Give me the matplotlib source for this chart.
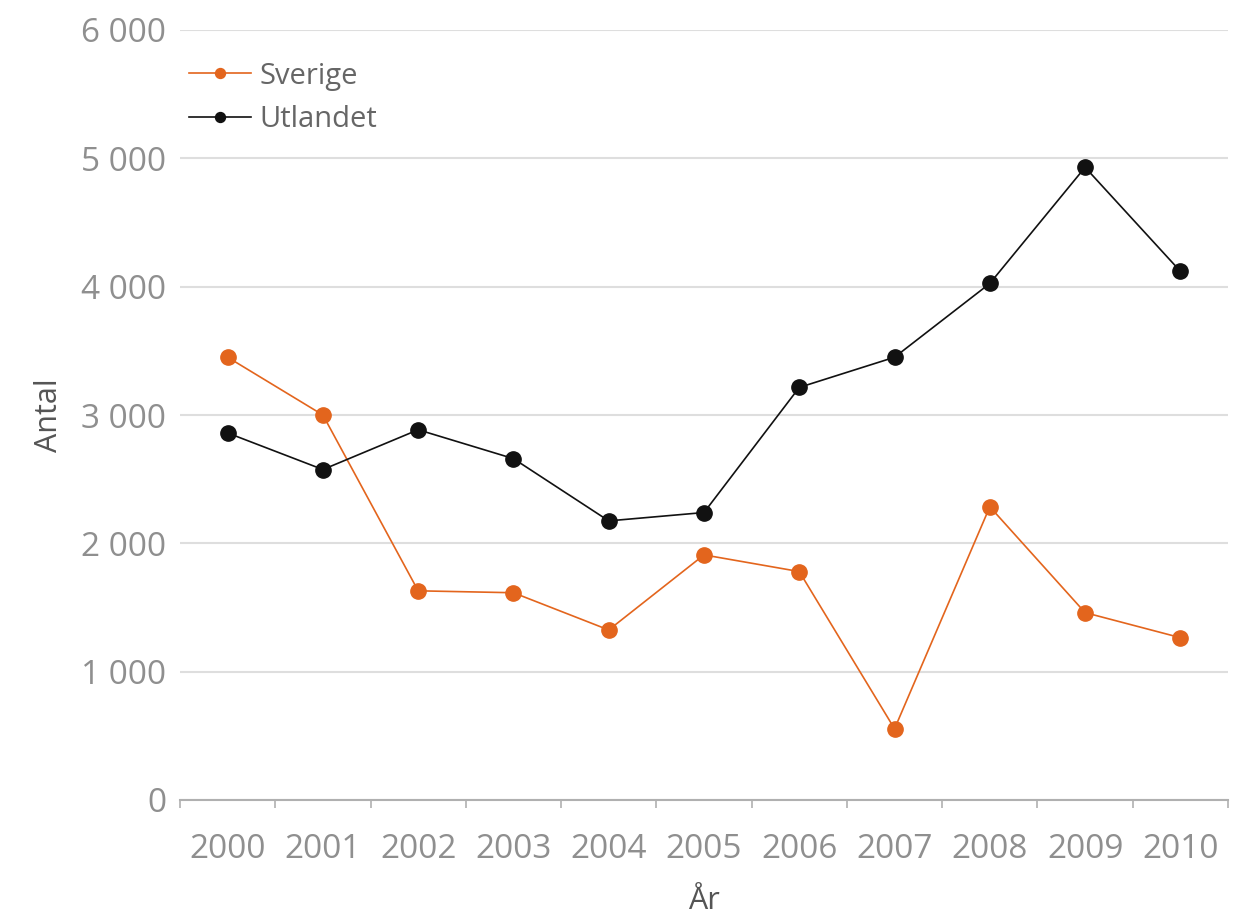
import matplotlib
matplotlib.use("Agg")
import matplotlib.pyplot as plt
import numpy as np

years = ["2000", "2001", "2002", "2003", "2004", "2005", "2006", "2007", "2008", "2009", "2010"]
sverige = [3450, 3000, 1630, 1615, 1325, 1910, 1780, 555, 2285, 1460, 1265]
utlandet = [2860, 2575, 2885, 2660, 2175, 2240, 3215, 3450, 4025, 4930, 4120]
yticks = [0, 1000, 2000, 3000, 4000, 5000, 6000]
ytick_labels = ["0", "1 000", "2 000", "3 000", "4 000", "5 000", "6 000"]

plt.rcParams['font.family'] = ['Open Sans', 'DejaVu Sans']

fig = plt.figure(figsize=(12.36, 9.19), dpi=100)
ax = fig.add_axes([180/1236, 1 - 800/919, (1228-180)/1236, (800-30)/919])

x = np.arange(len(years))
orange = "#E3651D"
ax.plot(x, sverige, color=orange, lw=1.2, marker='o', ms=11, mec=orange, mfc=orange,
        label="Sverige", zorder=3)
ax.plot(x, utlandet, color="#111111", lw=1.2, marker='o', ms=11, mec="#111111", mfc="#111111",
        label="Utlandet", zorder=3)

ax.set_xlim(-0.5, len(years) - 0.5)
ax.set_ylim(0, 6000)
ax.set_yticks(yticks)
ax.set_yticklabels(ytick_labels)
ax.set_xticks(x)
ax.set_xticklabels(years)
ax.set_xticks(np.arange(-0.5, len(years)), minor=True)

ax.grid(axis='y', color="#dedede", lw=1.5, zorder=0)
ax.set_axisbelow(True)
for s in ['top', 'right', 'left']:
    ax.spines[s].set_visible(False)
ax.spines['bottom'].set_color("#b0b0b0")
ax.spines['bottom'].set_linewidth(1.5)

ax.tick_params(axis='y', length=0, pad=10, labelsize=24, labelcolor="#8f8f8f")
ax.tick_params(axis='x', which='major', length=0, pad=24, labelsize=24, labelcolor="#8f8f8f")
ax.tick_params(axis='x', which='minor', length=6, width=1.2, color="#b0b0b0")

ax.set_ylabel("Antal", fontsize=22, color="#555555", labelpad=12)
ax.set_xlabel("År", fontsize=22, color="#555555", labelpad=14)

leg = ax.legend(loc='upper left', bbox_to_anchor=(-0.016, 0.993), frameon=False,
                fontsize=21, handlelength=2.1, handletextpad=0.3, labelspacing=0.5,
                markerscale=0.65)
for t in leg.get_texts():
    t.set_color("#666666")

fig.savefig("out.png", dpi=100, facecolor="white")
